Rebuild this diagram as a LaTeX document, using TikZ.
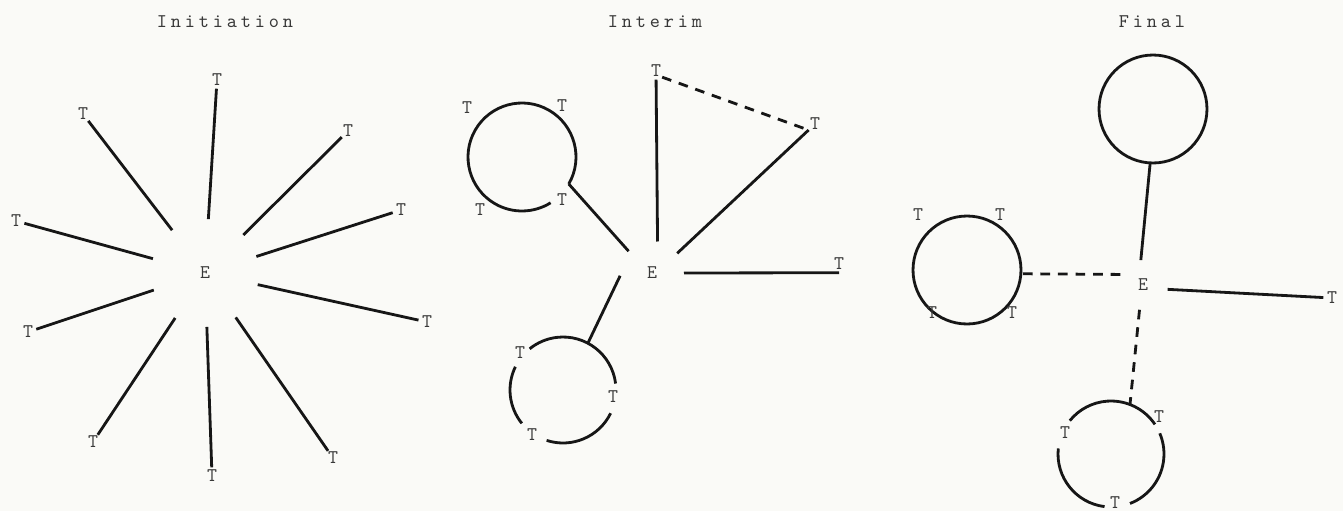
\documentclass[tikz,border=0pt]{standalone}
\usepackage{fontspec}
\usepackage{tikz}
\newfontfamily\titlefont{Latin Modern Mono}[LetterSpace=20]
\definecolor{colInk}{HTML}{161616}
\definecolor{colText}{HTML}{383838}
\definecolor{colPaper}{HTML}{FAFAF7}

\begin{document}
\begin{tikzpicture}[x=0.02cm, y=-0.02cm,
    link/.style={colInk, line width=1.6pt},
    weak/.style={colInk, line width=1.6pt, dash pattern=on 5.5pt off 4.5pt},
    tnode/.style={circle, inner sep=0.4pt, outer sep=0pt, text=colText,
                  font=\fontsize{11}{13}\selectfont\ttfamily},
    enode/.style={circle, inner sep=0pt, outer sep=0pt, text=colText,
                  font=\fontsize{11}{13}\selectfont\ttfamily},
    ring/.style={circle, inner sep=0pt, outer sep=0pt, minimum size=#1},
    title/.style={text=colText, font=\fontsize{11}{13}\selectfont\titlefont}]
    % Sfondo
    \fill[colPaper] (0,0) rectangle (1343,511);
    \useasboundingbox (0,0) rectangle (1343,511);

    % Initiation
    \node[title] (ti1) at (225,22) {Initiation};
    \node[enode, minimum size=2.16cm] (e1) at (205,273) {E};
    \foreach \n/\x/\y in {1/217/80, 2/83/114, 3/348/131, 4/401/210, 5/16/221,
                          6/427/322, 7/28/332, 8/93/442, 9/212/476, 10/333/458}
        \node[tnode] (ia\n) at (\x,\y) {T};
    \foreach \n in {1,...,10}
        \draw[link] (e1) -- (ia\n);

    % Interim
    \node[title] (ti2) at (655,22) {Interim};
    \node[enode, minimum size=1.28cm] (e2) at (652,273) {E};
    \node[tnode] (ib1) at (656,71) {T};
    \node[tnode] (ib2) at (815,124) {T};
    \node[tnode] (ib3) at (839,264) {T};
    \draw[link] (e2.80) -- (ib1);
    \draw[link] (e2.38) -- (ib2);
    \draw[link] (e2.0) -- (ib3.south);
    \draw[weak] (ib1.south east) -- (ib2.south west);
    % anello in alto
    \node[ring=2.16cm] (rb1) at (522,157) {};
    \draw[link] (rb1.-30) arc[start angle=-30, end angle=302, radius=1.08cm];
    \draw[link] (e2.137) -- (rb1.-30);
    \foreach \n/\x/\y in {1/467/108, 2/562/106, 3/480/210, 4/562/200}
        \node[tnode] (ib1\n) at (\x,\y) {T};
    % anello in basso
    \node[ring=2.12cm] (rb2) at (563,390) {};
    \draw[link] (rb2.7) arc[start angle=7, end angle=129, radius=1.06cm];
    \draw[link] (rb2.-108) arc[start angle=-108, end angle=-26, radius=1.06cm];
    \draw[link] (rb2.154) arc[start angle=154, end angle=219, radius=1.06cm];
    \draw[link] (e2.185) -- (rb2.62);
    \foreach \n/\x/\y in {1/520/353, 2/613/397, 3/532/435}
        \node[tnode] (ib2\n) at (\x,\y) {T};

    % Final
    \node[title] (ti3) at (1152,22) {Final};
    \node[enode, minimum size=1.0cm] (e3) at (1143,285) {E};
    \node[ring=2.16cm, draw=colInk, line width=1.6pt] (rc1) at (1153,109) {};
    \draw[link] (rc1.-93) -- (e3.95);
    \node[tnode] (ic1) at (1332,298) {T};
    \draw[link] (e3.-10) -- (ic1);
    % anello a sinistra
    \node[ring=2.16cm, draw=colInk, line width=1.6pt] (rc2) at (967,270) {};
    \draw[weak] (e3.155) -- (rc2.-4);
    \foreach \n/\x/\y in {1/918/215, 2/1000/215, 3/932/313, 4/1012/313}
        \node[tnode] (ic2\n) at (\x,\y) {T};
    % anello in basso
    \node[ring=2.12cm] (rc3) at (1111,454) {};
    \draw[link] (rc3.34) arc[start angle=34, end angle=141, radius=1.06cm];
    \draw[link] (rc3.-69) arc[start angle=-69, end angle=23, radius=1.06cm];
    \draw[link] (rc3.174) arc[start angle=174, end angle=263, radius=1.06cm];
    \draw[weak] (e3.262) -- (rc3.69);
    \foreach \n/\x/\y in {1/1065/433, 2/1159/417, 3/1115/503}
        \node[tnode] (ic3\n) at (\x,\y) {T};
\end{tikzpicture}
\end{document}
